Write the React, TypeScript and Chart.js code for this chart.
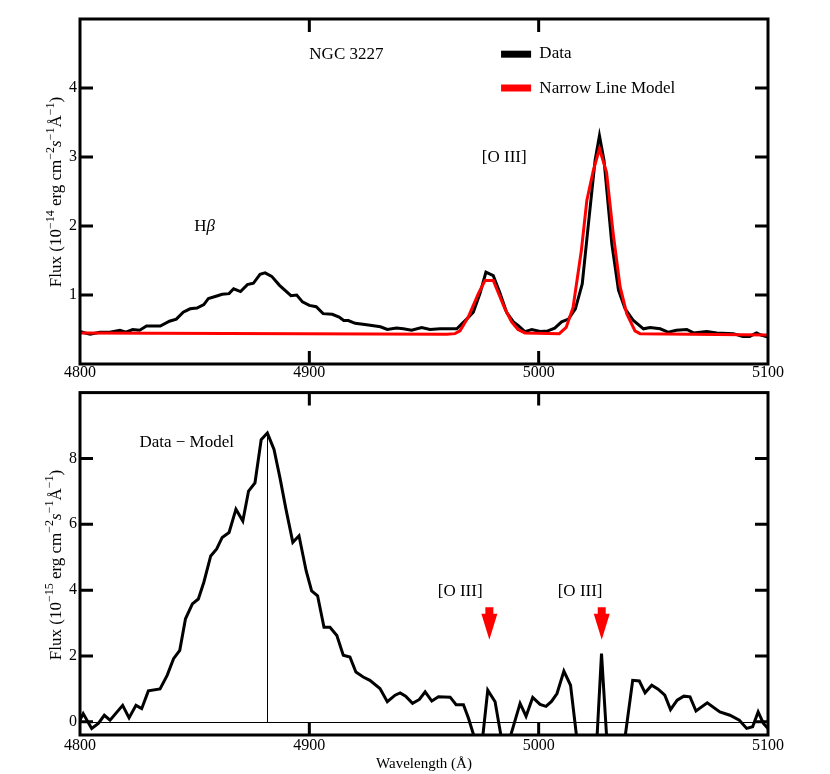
import React, { useEffect, useRef } from "react";
import { Chart, registerables } from "chart.js";
Chart.register(...registerables);

const FONT = '"Liberation Serif", "Times New Roman", Times, serif';

// ---------- Top panel: observed spectrum ----------
const dataWave = [
  4800, 4804.4, 4808.7, 4813, 4817.4, 4820, 4823, 4826, 4829, 4835, 4839, 4842, 4845, 4848, 4851, 4854, 4856,
  4860, 4862, 4865, 4867, 4870, 4873, 4875.6, 4878.5, 4880.7, 4883.6, 4887, 4892, 4894.5, 4897, 4900, 4903,
  4906, 4910, 4913, 4915, 4917, 4920, 4925, 4931, 4934, 4938, 4941, 4944.6, 4949, 4952.6, 4957, 4962.8,
  4964.3, 4968.6, 4971.5, 4974.4, 4977, 4980.2, 4983, 4986, 4989, 4991, 4994, 4997, 5000.6, 5004, 5007,
  5010, 5013, 5016, 5019, 5021.7, 5024.6, 5026.5, 5028.5, 5031.9, 5034.8, 5037.7, 5041.3, 5045.7, 5048.6,
  5053, 5056.6, 5060, 5064.6, 5067.5, 5073.3, 5077.7, 5084.9, 5089, 5092, 5095, 5097, 5100,
];
const dataFlux = [
  0.47, 0.43, 0.46, 0.46, 0.49, 0.46, 0.5, 0.49, 0.55, 0.55, 0.62, 0.65, 0.75, 0.8, 0.81, 0.86, 0.95,
  0.99, 1.01, 1.02, 1.09, 1.05, 1.15, 1.17, 1.3, 1.32, 1.27, 1.14, 0.99, 1.0, 0.9, 0.85, 0.83,
  0.73, 0.72, 0.68, 0.63, 0.63, 0.59, 0.57, 0.54, 0.5, 0.52, 0.51, 0.49, 0.53, 0.5, 0.51, 0.51,
  0.51, 0.65, 0.75, 1.02, 1.33, 1.28, 1.04, 0.75, 0.61, 0.56, 0.47, 0.5, 0.47, 0.48, 0.52,
  0.61, 0.65, 0.8, 1.16, 2.03, 2.95, 3.31, 2.95, 1.74, 1.07, 0.8, 0.63, 0.51, 0.53,
  0.51, 0.46, 0.49, 0.5, 0.45, 0.47, 0.45, 0.44, 0.4, 0.4, 0.45, 0.42, 0.39,
];

// ---------- Top panel: narrow line model ----------
const modelWave = [
  4800, 4960, 4963.5, 4965.7, 4969.3, 4973.7, 4976.6, 4980.2, 4983.2, 4985.3, 4988.2, 4991, 4994,
  5009, 5012, 5015, 5018.6, 5021, 5023.8, 5026.5, 5029.6, 5032.5, 5035.5, 5038.4, 5042, 5044.2, 5100,
];
const modelFlux = [
  0.45, 0.43, 0.44, 0.48, 0.68, 1.02, 1.21, 1.21, 0.97, 0.8, 0.61, 0.5, 0.45,
  0.44, 0.53, 0.82, 1.64, 2.37, 2.8, 3.12, 2.78, 1.89, 1.12, 0.73, 0.48, 0.44, 0.42,
];

// ---------- Bottom panel: data - model ----------
const residWave = [
  4800, 4801.4, 4805.1, 4808, 4810.6, 4813.1, 4818.6, 4821.4, 4824.4, 4826.9, 4829.8, 4834.9, 4838, 4840.8,
  4843.5, 4846, 4849, 4851.6, 4854, 4857, 4859.6, 4862, 4865, 4868, 4871, 4873.5, 4876.3, 4879, 4881.7,
  4884.6, 4887.2, 4889.8, 4892.8, 4895.5, 4898.6, 4901, 4903.6, 4906.4, 4909, 4912, 4914.8, 4917.7,
  4920.3, 4923.5, 4926.4, 4930.8, 4934, 4937.4, 4939.6, 4942, 4945, 4948, 4950.5, 4953.4, 4956.3,
  4961.4, 4964, 4967.2, 4969.4, 4972.3, 4975.2, 4977.8, 4981, 4984, 4987, 4991.9, 4994.5, 4997.4,
  5000.6, 5003.2, 5005.6, 5008, 5011, 5013.9, 5016.8, 5019.7, 5022.5, 5024.5, 5027.4, 5030.3, 5033,
  5035.5, 5037.6, 5041, 5043.9, 5046.4, 5049.3, 5052.1, 5055, 5057.5, 5060.4, 5063.3, 5066, 5068.6,
  5073.5, 5079, 5083.4, 5087.5, 5090.7, 5093.3, 5095.7, 5098, 5100,
];
const residFlux = [
  0.05, 0.25, -0.2, -0.05, 0.2, 0.05, 0.5, 0.12, 0.5, 0.4, 0.94, 1.0, 1.41, 1.92,
  2.17, 3.13, 3.58, 3.73, 4.24, 5.04, 5.25, 5.6, 5.75, 6.46, 6.1, 7.01, 7.26, 8.57, 8.77,
  8.27, 7.41, 6.46, 5.45, 5.65, 4.59, 3.98, 3.83, 2.87, 2.87, 2.62, 2.02, 1.97,
  1.51, 1.36, 1.26, 1.01, 0.61, 0.81, 0.88, 0.78, 0.56, 0.68, 0.91, 0.63, 0.76,
  0.75, 0.52, 0.52, 0.11, -0.55, -0.72, 0.96, 0.61, -0.6, -0.6, 0.56, 0.17, 0.74,
  0.53, 0.47, 0.62, 0.86, 1.54, 1.11, -0.6, -2.5, -3, -1.7, 2.07, -1.2, -3,
  -2, -0.5, 1.26, 1.24, 0.88, 1.11, 0.99, 0.81, 0.37, 0.66, 0.78, 0.76, 0.33,
  0.58, 0.3, 0.2, 0.05, -0.2, -0.15, 0.3, -0.05, -0.2,
];

// ---------- Axes ----------
const xTickValues = [4800, 4900, 5000, 5100];
const xInnerTicks = [4900, 5000];
const topYTicks = [1, 2, 3, 4];
const bottomYTicks = [0, 2, 4, 6, 8];
const bottomYMarks = [0, 2, 4, 6, 8];

// [O III] arrow wavelengths in the bottom panel
const arrowWaves = [4978.5, 5027.5];

type Seg = { t: string; sup?: boolean; it?: boolean };
const topYTitle: Seg[] = [
  { t: "Flux (10" }, { t: "\u221214", sup: true }, { t: " erg cm" }, { t: "\u22122", sup: true },
  { t: "s", it: true }, { t: "\u22121", sup: true }, { t: "\u00C5" }, { t: "\u22121", sup: true }, { t: ")" },
];
const bottomYTitle: Seg[] = [
  { t: "Flux (10" }, { t: "\u221215", sup: true }, { t: " erg cm" }, { t: "\u22122", sup: true },
  { t: "s", it: true }, { t: "\u22121", sup: true }, { t: "\u00C5" }, { t: "\u22121", sup: true }, { t: ")" },
];

const TITLE_SIZE = 17;
const SUP_SIZE = 12;
const ANN_SIZE = 17;

function drawRotTitle(ctx: CanvasRenderingContext2D, baseX: number, cy: number, segs: Seg[]) {
  const fontOf = (s: Seg) =>
    `${s.it ? "italic " : ""}${s.sup ? SUP_SIZE : TITLE_SIZE}px ${FONT}`;
  const widths = segs.map((s) => {
    ctx.font = fontOf(s);
    return ctx.measureText(s.t).width;
  });
  const total = widths.reduce((a, b) => a + b, 0);
  ctx.save();
  ctx.translate(baseX, cy);
  ctx.rotate(-Math.PI / 2);
  ctx.fillStyle = "#000";
  ctx.textAlign = "left";
  ctx.textBaseline = "alphabetic";
  let x = -total / 2;
  segs.forEach((s, i) => {
    ctx.font = fontOf(s);
    ctx.fillText(s.t, x, s.sup ? -TITLE_SIZE * 0.42 : 0);
    x += widths[i];
  });
  ctx.restore();
}

function frameAndTicks(chart: any, yMarks: number[]) {
  const { ctx, chartArea: a, scales } = chart;
  const x = scales.x;
  const y = scales.y;
  const L = 13;
  ctx.save();
  ctx.strokeStyle = "#000";
  ctx.lineWidth = 3;
  ctx.beginPath();
  for (const v of xInnerTicks) {
    const px = x.getPixelForValue(v);
    ctx.moveTo(px, a.bottom);
    ctx.lineTo(px, a.bottom - L);
    ctx.moveTo(px, a.top);
    ctx.lineTo(px, a.top + L);
  }
  for (const v of yMarks) {
    const py = y.getPixelForValue(v);
    ctx.moveTo(a.left, py);
    ctx.lineTo(a.left + L, py);
    ctx.moveTo(a.right, py);
    ctx.lineTo(a.right - L, py);
  }
  ctx.stroke();
  ctx.strokeRect(a.left, a.top, a.right - a.left, a.bottom - a.top);
  ctx.restore();
}

function annText(chart: any, text: string, xv: number, yv: number, parts?: Seg[]) {
  const { ctx, scales } = chart;
  const px = scales.x.getPixelForValue(xv);
  const py = scales.y.getPixelForValue(yv);
  ctx.save();
  ctx.fillStyle = "#000";
  ctx.textAlign = "left";
  ctx.textBaseline = "alphabetic";
  if (parts) {
    let cx = px;
    for (const p of parts) {
      ctx.font = `${p.it ? "italic " : ""}${ANN_SIZE}px ${FONT}`;
      ctx.fillText(p.t, cx, py);
      cx += ctx.measureText(p.t).width;
    }
  } else {
    ctx.font = `${ANN_SIZE}px ${FONT}`;
    ctx.fillText(text, px, py);
  }
  ctx.restore();
}

const topPlugin = {
  id: "topDecor",
  afterDatasetsDraw(chart: any) {
    frameAndTicks(chart, topYTicks);
  },
  afterDraw(chart: any) {
    const { ctx, scales } = chart;
    const x = scales.x;
    const y = scales.y;
    annText(chart, "NGC 3227", 4900, 4.42);
    annText(chart, "", 4849.8, 1.93, [{ t: "H" }, { t: "\u03B2", it: true }]);
    annText(chart, "[O III]", 4975.2, 2.93);
    // legend
    ctx.save();
    ctx.lineWidth = 7;
    ctx.strokeStyle = "#000";
    ctx.beginPath();
    ctx.moveTo(x.getPixelForValue(4983.6), y.getPixelForValue(4.49));
    ctx.lineTo(x.getPixelForValue(4996.7), y.getPixelForValue(4.49));
    ctx.stroke();
    ctx.strokeStyle = "#ff0000";
    ctx.beginPath();
    ctx.moveTo(x.getPixelForValue(4983.6), y.getPixelForValue(4.0));
    ctx.lineTo(x.getPixelForValue(4996.7), y.getPixelForValue(4.0));
    ctx.stroke();
    ctx.restore();
    annText(chart, "Data", 5000.3, 4.43);
    annText(chart, "Narrow Line Model", 5000.3, 3.93);
    drawRotTitle(ctx, 61, (chart.chartArea.top + chart.chartArea.bottom) / 2 + 0.5, topYTitle);
  },
};

const bottomPlugin = {
  id: "bottomDecor",
  beforeDatasetsDraw(chart: any) {
    const { ctx, chartArea: a, scales } = chart;
    const x = scales.x;
    const y = scales.y;
    ctx.save();
    ctx.strokeStyle = "#000";
    ctx.lineWidth = 1;
    ctx.beginPath();
    const y0 = Math.round(y.getPixelForValue(0)) + 0.5;
    ctx.moveTo(a.left, y0);
    ctx.lineTo(a.right, y0);
    // vertical line at the peak of the residual
    let mi = 0;
    residFlux.forEach((v, i) => {
      if (v > residFlux[mi]) mi = i;
    });
    const px = Math.round(x.getPixelForValue(residWave[mi])) + 0.5;
    ctx.moveTo(px, y0);
    ctx.lineTo(px, y.getPixelForValue(residFlux[mi]));
    ctx.stroke();
    ctx.restore();
  },
  afterDatasetsDraw(chart: any) {
    frameAndTicks(chart, bottomYMarks);
  },
  afterDraw(chart: any) {
    const { ctx, scales } = chart;
    const x = scales.x;
    const y = scales.y;
    annText(chart, "Data \u2212 Model", 4825.9, 8.34);
    annText(chart, "[O III]", 4956.0, 3.83);
    annText(chart, "[O III]", 5008.3, 3.83);
    ctx.save();
    ctx.fillStyle = "#ff0000";
    for (const w of arrowWaves) {
      const cx = x.getPixelForValue(w);
      const yTop = y.getPixelForValue(3.48);
      const yHead = y.getPixelForValue(3.28);
      const yTip = y.getPixelForValue(2.49);
      ctx.beginPath();
      ctx.moveTo(cx - 4, yTop);
      ctx.lineTo(cx + 4, yTop);
      ctx.lineTo(cx + 4, yHead);
      ctx.lineTo(cx + 8, yHead);
      ctx.lineTo(cx, yTip);
      ctx.lineTo(cx - 8, yHead);
      ctx.lineTo(cx - 4, yHead);
      ctx.closePath();
      ctx.fill();
    }
    ctx.restore();
    drawRotTitle(ctx, 60.5, 185, bottomYTitle);
  },
};

function makeScales(opts: {
  ymin: number;
  ymax: number;
  yTicks: number[];
  xHeight: number;
  xPad: number;
  xTitle?: string;
}) {
  return {
    x: {
      type: "linear",
      min: 4800,
      max: 5100,
      afterBuildTicks: (s: any) => {
        s.ticks = xTickValues.map((v) => ({ value: v }));
      },
      afterFit: (s: any) => {
        s.height = opts.xHeight;
      },
      ticks: {
        color: "#000",
        font: { family: FONT, size: 16 },
        padding: opts.xPad,
        maxRotation: 0,
        autoSkip: false,
        callback: (v: any) => String(v),
      },
      grid: { display: false, drawTicks: false },
      border: { display: false },
      title: opts.xTitle
        ? {
            display: true,
            text: opts.xTitle,
            color: "#000",
            font: { family: FONT, size: 15 },
            padding: { top: 0, bottom: 1 },
          }
        : { display: false },
    },
    y: {
      type: "linear",
      min: opts.ymin,
      max: opts.ymax,
      afterBuildTicks: (s: any) => {
        s.ticks = opts.yTicks.map((v) => ({ value: v }));
      },
      afterFit: (s: any) => {
        s.width = 80;
      },
      ticks: {
        color: "#000",
        font: { family: FONT, size: 16 },
        padding: 3,
        callback: (v: any) => String(v),
      },
      grid: { display: false, drawTicks: false },
      border: { display: false },
    },
  };
}

const pts = (xs: number[], ys: number[]) => xs.map((x, i) => ({ x, y: ys[i] }));

export default function App() {
  const topRef = useRef<HTMLCanvasElement>(null);
  const botRef = useRef<HTMLCanvasElement>(null);

  useEffect(() => {
    const top = new Chart(topRef.current as HTMLCanvasElement, {
      type: "line",
      data: {
        datasets: [
          {
            label: "Narrow Line Model",
            data: pts(modelWave, modelFlux),
            borderColor: "#ff0000",
            borderWidth: 3,
            pointRadius: 0,
            tension: 0,
            fill: false,
          },
          {
            label: "Data",
            data: pts(dataWave, dataFlux),
            borderColor: "#000",
            borderWidth: 3,
            pointRadius: 0,
            tension: 0,
            fill: false,
          },
        ],
      },
      options: {
        responsive: false,
        animation: false,
        events: [],
        layout: { padding: { left: 0, right: 62, top: 19, bottom: 0 } },
        plugins: { legend: { display: false }, tooltip: { enabled: false }, title: { display: false } },
        scales: makeScales({ ymin: 0, ymax: 5, yTicks: topYTicks, xHeight: 16, xPad: -1 }) as any,
      },
      plugins: [topPlugin],
    } as any);

    const bot = new Chart(botRef.current as HTMLCanvasElement, {
      type: "line",
      data: {
        datasets: [
          {
            label: "Data - Model",
            data: pts(residWave, residFlux),
            borderColor: "#000",
            borderWidth: 3,
            pointRadius: 0,
            tension: 0,
            fill: false,
          },
        ],
      },
      options: {
        responsive: false,
        animation: false,
        events: [],
        layout: { padding: { left: 0, right: 62, top: 11, bottom: 0 } },
        plugins: { legend: { display: false }, tooltip: { enabled: false }, title: { display: false } },
        scales: makeScales({
          ymin: -0.4,
          ymax: 10,
          yTicks: bottomYTicks,
          xHeight: 39,
          xPad: 1,
          xTitle: "Wavelength (\u00C5)",
        }) as any,
      },
      plugins: [bottomPlugin],
    } as any);

    return () => {
      top.destroy();
      bot.destroy();
    };
  }, []);

  return (
    <div style={{ position: "absolute", left: 0, top: 0, width: 830, height: 774, background: "#fff" }}>
      <canvas
        ref={topRef}
        width={830}
        height={380}
        style={{ position: "absolute", left: 0, top: 0, width: 830, height: 380, display: "block" }}
      />
      <canvas
        ref={botRef}
        width={830}
        height={394}
        style={{ position: "absolute", left: 0, top: 380, width: 830, height: 394, display: "block" }}
      />
    </div>
  );
}
